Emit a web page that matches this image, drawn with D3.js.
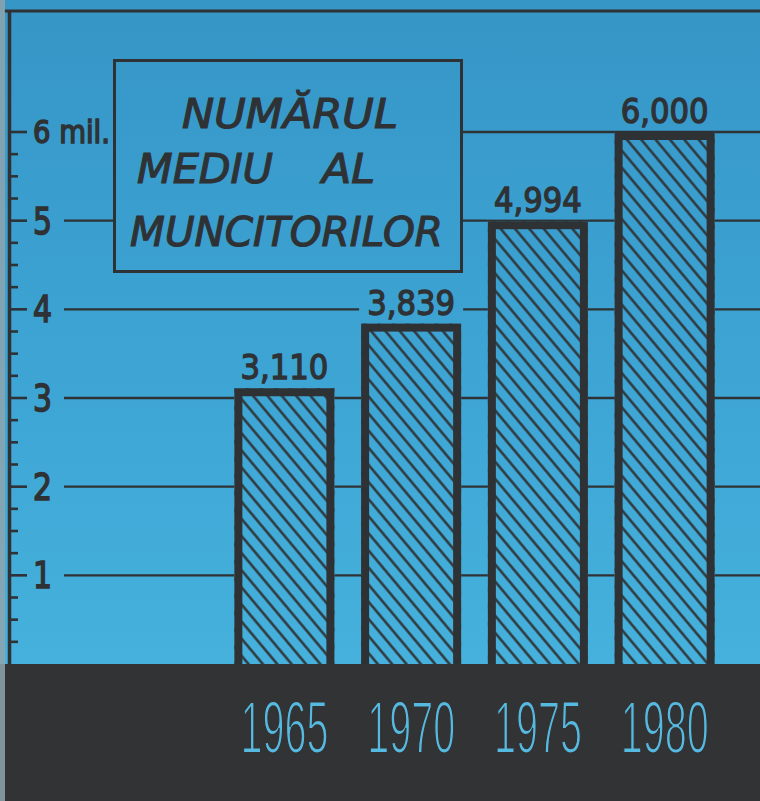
<!DOCTYPE html>
<html><head><meta charset="utf-8">
<script src="https://cdn.jsdelivr.net/npm/d3@7"></script>
<style>html,body{margin:0;padding:0;background:#3b9fcf;} svg{display:block}</style>
</head><body>
<svg id="chart" width="760" height="801"></svg>
<script>
// ---- data ----
const years = ["1965", "1970", "1975", "1980"];
const workers = [3.110, 3.839, 4.994, 6.000];           // milioane
const valueLabels = ["3,110", "3,839", "4,994", "6,000"];
const yTicks = [1, 2, 3, 4, 5, 6];
const yTickLabels = ["1", "2", "3", "4", "5", "6 mil."];
const titleWords = ["NUMĂRUL", "MEDIU", "AL", "MUNCITORILOR"];

// ---- setup ----
const W = 760, H = 801;
const ink = "#2f3235";
const ground = "#323335";
const svg = d3.select("#chart");
const y = d3.scaleLinear().domain([0, 6]).range([664, 132]);
const x = d3.scaleBand().domain(years).range([221, 728]).paddingInner(0.274).paddingOuter(0.137);

// helper: horizontally condensed text via transform
function condensed(g, txt, cx, by, opts, targetW, anchor) {
  const gg = g.append("g");
  const t = gg.append("text").attr("x", 0).attr("y", 0)
    .attr("text-anchor", anchor || "middle")
    .attr("font-family", opts.family).attr("font-weight", opts.weight || "normal")
    .attr("font-style", opts.style || "normal")
    .attr("font-size", opts.size).attr("fill", opts.fill)
    .text(txt);
  if (opts.stroke) t.attr("stroke", opts.strokeColor || opts.fill).attr("stroke-width", opts.stroke);
  const n = t.node().getComputedTextLength();
  const sx = targetW / n;
  gg.attr("transform", `translate(${cx},${by}) scale(${sx},1)`);
  return gg;
}

const defs = svg.append("defs");
const grad = defs.append("linearGradient").attr("id", "bg")
  .attr("gradientUnits", "userSpaceOnUse").attr("x1", 0).attr("y1", 0).attr("x2", 0).attr("y2", 664);
grad.append("stop").attr("offset", "0%").attr("stop-color", "#3696c6");
grad.append("stop").attr("offset", "50%").attr("stop-color", "#3ca3d3");
grad.append("stop").attr("offset", "100%").attr("stop-color", "#46b1dc");

const hatch = defs.append("pattern").attr("id", "hatch")
  .attr("patternUnits", "userSpaceOnUse").attr("width", 11).attr("height", 30)
  .attr("patternTransform", "rotate(-40)");
hatch.append("line").attr("x1", 5.5).attr("x2", 5.5).attr("y1", 0).attr("y2", 30)
  .attr("stroke", ink).attr("stroke-width", 2.4);

// background
svg.append("rect").attr("width", W).attr("height", H).attr("fill", "url(#bg)");

// gridlines layer (filled later)
const gGrid = svg.append("g");

// title box
const gTitle = svg.append("g");
gTitle.append("rect").attr("x", 114.5).attr("y", 60.5).attr("width", 347).attr("height", 211)
  .attr("fill", "url(#bg)").attr("stroke", ink).attr("stroke-width", 3);
const titlePos = [
  { x: 182, y: 128, len: 216 },
  { x: 137, y: 183, len: 136 },
  { x: 322, y: 183, len: 53 },
  { x: 130, y: 246, len: 313 }
];
titleWords.forEach((w, i) => {
  condensed(gTitle, w, titlePos[i].x, titlePos[i].y,
    { family: "DejaVu Sans, sans-serif", style: "italic", size: 41, fill: ink, stroke: 1.2 },
    titlePos[i].len, "start");
});

// value labels with masks
const gVal = svg.append("g");
years.forEach((yr, i) => {
  const cx = x(yr) + x.bandwidth() / 2;
  const by = y(workers[i]) - 9;
  const target = valueLabels[i].length * 17.6;
  gVal.append("rect")
    .attr("x", cx - target / 2 - 8).attr("y", by - 27)
    .attr("width", target + 16).attr("height", 34)
    .attr("fill", "url(#bg)");
  condensed(gVal, valueLabels[i], cx, by,
    { family: "DejaVu Sans, sans-serif", weight: "normal", size: 34, fill: ink, stroke: 1.4 },
    target, "middle");
});

// bars
const gBars = svg.append("g");
const sw = 8;
years.forEach((yr, i) => {
  const bx = x(yr), bw = x.bandwidth() + sw, top = y(workers[i]);
  const x0 = bx - sw / 2;
  gBars.append("rect").attr("x", x0).attr("y", top).attr("width", bw).attr("height", y(0) - top)
    .attr("fill", "url(#bg)");
  gBars.append("rect").attr("x", x0).attr("y", top).attr("width", bw).attr("height", y(0) - top)
    .attr("fill", "url(#hatch)");
  gBars.append("rect").attr("x", x0 + sw / 2).attr("y", top + sw / 2)
    .attr("width", bw - sw).attr("height", y(0) - top)
    .attr("fill", "none").attr("stroke", ink).attr("stroke-width", sw);
});

// axis
const gAxis = svg.append("g");
gAxis.append("line").attr("x1", 4).attr("x2", W).attr("y1", 11).attr("y2", 11)
  .attr("stroke", ink).attr("stroke-width", 3);
gAxis.append("line").attr("x1", 9.5).attr("x2", 9.5).attr("y1", 10).attr("y2", y(0))
  .attr("stroke", ink).attr("stroke-width", 3.5);
const minor = d3.range(0, 24).map(k => k * 0.25).filter(v => v > 0 && !Number.isInteger(v));
gAxis.selectAll("line.minor").data(minor).join("line")
  .attr("x1", 9).attr("x2", 18).attr("y1", d => y(d)).attr("y2", d => y(d))
  .attr("stroke", ink).attr("stroke-width", 2.6);
gAxis.selectAll("line.major").data(yTicks).join("line")
  .attr("x1", 9).attr("x2", 27).attr("y1", d => y(d)).attr("y2", d => y(d))
  .attr("stroke", ink).attr("stroke-width", 2.6);

// tick labels + gridlines starting after them
const gTickLab = svg.append("g");
yTicks.forEach((t, i) => {
  const lab = yTickLabels[i];
  const big = t !== 6;
  const wTarget = big ? 19 : 77;
  condensed(gTickLab, lab, 33, y(t) + (big ? 13 : 11),
    { family: "DejaVu Sans, sans-serif", size: big ? 37 : 32, fill: ink, stroke: 1.6 },
    wTarget, "start");
  gGrid.append("line")
    .attr("x1", 33 + wTarget + 12).attr("x2", W)
    .attr("y1", y(t)).attr("y2", y(t))
    .attr("stroke", ink).attr("stroke-width", 2.4);
});

// dark ground band
svg.append("rect").attr("x", 0).attr("y", y(0)).attr("width", W).attr("height", H - y(0))
  .attr("fill", ground);

// year labels (thin, eroded with ground-coloured stroke)
const gYears = svg.append("g");
years.forEach(yr => {
  condensed(gYears, yr, x(yr) + x.bandwidth() / 2, 753,
    { family: "'Liberation Sans', Arimo, sans-serif", weight: "normal", size: 74, fill: "#55b9e0",
      stroke: 2.2, strokeColor: ground },
    88, "middle");
});

// worn left edge
svg.append("rect").attr("x", 0).attr("y", 0).attr("width", 5).attr("height", H)
  .attr("fill", "#8ea3ad").attr("opacity", 0.85);
</script>
</body></html>
